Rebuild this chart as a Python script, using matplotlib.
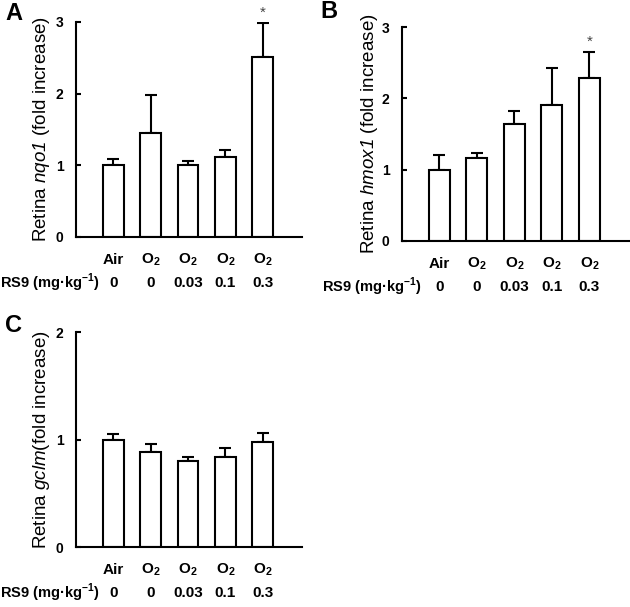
import numpy as np
import matplotlib
matplotlib.use('Agg')
import matplotlib.pyplot as plt
import matplotlib.transforms as mtransforms

plt.rcParams['font.family'] = ['Liberation Sans', 'DejaVu Sans']
plt.rcParams['mathtext.fontset'] = 'custom'
plt.rcParams['mathtext.rm'] = 'Liberation Sans'
plt.rcParams['mathtext.sf'] = 'Liberation Sans:italic'  # 基因名用斜体（sf 不会把数字换成正体）
plt.rcParams['mathtext.bf'] = 'Liberation Sans:bold'

# 数据
groups = ['Air', 'O$_\\mathbf{2}$', 'O$_\\mathbf{2}$', 'O$_\\mathbf{2}$', 'O$_\\mathbf{2}$']
doses = ['0', '0', '0.03', '0.1', '0.3']

nqo1_mean = [1.0, 1.45, 1.01, 1.12, 2.51]
nqo1_err = [0.09, 0.53, 0.05, 0.09, 0.48]
hmox1_mean = [1.0, 1.16, 1.64, 1.90, 2.29]
hmox1_err = [0.21, 0.07, 0.18, 0.53, 0.36]
gclm_mean = [1.0, 0.88, 0.80, 0.84, 0.98]
gclm_err = [0.05, 0.08, 0.04, 0.08, 0.08]

sig_a = [False, False, False, False, True]
sig_b = [False, False, False, False, True]
sig_c = [False, False, False, False, False]


def draw_panel(ax, mean, err, sig, ymax, ylabel, lab_x, rs9_x):
    x = np.arange(len(mean))
    ax.bar(x, mean, width=0.56, color='white', edgecolor='black', linewidth=1.5, zorder=2)
    ax.errorbar(x, mean, yerr=[np.zeros(len(err)), err], fmt='none', ecolor='black',
                elinewidth=1.5, capsize=4.5, capthick=1.5, zorder=1)
    # 显著性星号
    for xi, m, e, s in zip(x, mean, err, sig):
        if s:
            ax.text(xi, m + e + 0.14, '*', ha='center', va='center', fontsize=11,
                    color='#444444', clip_on=False)

    ax.set_xlim(-1, 5.05)
    ax.set_ylim(0, ymax)
    ax.set_yticks(range(ymax + 1))
    ax.set_xticks([])
    for lab in ax.get_yticklabels():
        lab.set_fontweight('bold')
    ax.tick_params(axis='y', direction='in', length=3.5, width=1.5, labelsize=10, pad=9)
    ax.spines['top'].set_visible(False)
    ax.spines['right'].set_visible(False)
    ax.spines['left'].set_linewidth(1.5)
    ax.spines['bottom'].set_linewidth(1.5)

    ax.set_ylabel(ylabel, fontsize=13.5)
    ax.yaxis.set_label_coords(lab_x, 0.5)

    # x轴下方的两行标签
    trans = mtransforms.blended_transform_factory(ax.transData, ax.transAxes)
    for xi, g, d in zip(x, groups, doses):
        ax.text(xi, -0.107, g, transform=trans, ha='center', va='center',
                fontsize=11, fontweight='bold')
        ax.text(xi, -0.213, d, transform=trans, ha='center', va='center',
                fontsize=11, fontweight='bold')
    ax.text(rs9_x, -0.213, 'RS9 (mg·kg$^{\\mathbf{-1}}$)', transform=ax.transAxes,
            ha='right', va='center', fontsize=10.5, fontweight='bold')


fig = plt.figure(figsize=(6.3, 6.07), dpi=100)
ax_a = fig.add_axes([0.1206, 0.6096, 0.3587, 0.3542])
ax_b = fig.add_axes([0.638, 0.603, 0.36, 0.3525])
ax_c = fig.add_axes([0.1206, 0.0988, 0.3587, 0.3542])

draw_panel(ax_a, nqo1_mean, nqo1_err, sig_a, 3,
           'Retina $\\mathsf{nqo1}$ (fold increase)', -0.105, 0.105)
draw_panel(ax_b, hmox1_mean, hmox1_err, sig_b, 3,
           'Retina $\\mathsf{hmox1}$ (fold increase)', -0.095, 0.088)
draw_panel(ax_c, gclm_mean, gclm_err, sig_c, 2,
           'Retina $\\mathsf{gclm}$(fold increase)', -0.105, 0.105)

# 面板字母
for lx, ly, letter in [(14, 13.5, 'A'), (329, 11, 'B'), (13, 325.5, 'C')]:
    fig.text(lx / 630, 1 - ly / 607, letter, ha='center', va='center',
             fontsize=17, fontweight='bold')

fig.savefig('out.png', dpi=100)
